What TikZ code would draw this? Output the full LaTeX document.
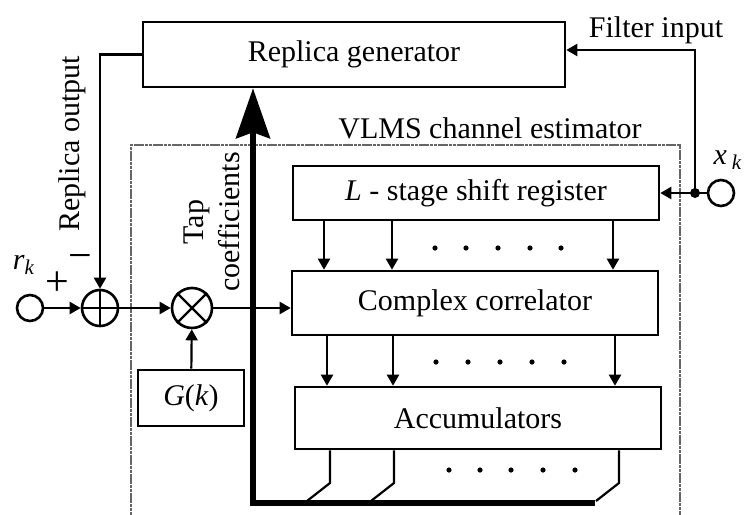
\documentclass[tikz,border=0pt]{standalone}
\usepackage{fontspec}
\setmainfont{Liberation Serif}
\usetikzlibrary{arrows.meta}

\begin{document}
\begin{tikzpicture}[x=0.5pt, y=-0.5pt, line join=miter,
  font=\fontsize{15}{18}\selectfont,
  >={Triangle[length=5.5pt,width=6pt]},
  blk/.style={draw, line width=1.3pt, minimum width=183pt, inner sep=0pt},
  sig/.style={draw, circle, line width=1.3pt, inner sep=0pt},
  wire/.style={line width=1.1pt},
  bus/.style={line width=2.8pt},
  sign/.style={font=\fontsize{21}{21}\selectfont, inner sep=0pt},
  frame/.style={draw=black!60, line width=1.4pt, dash pattern=on 1.6pt off 0.3pt}]

\useasboundingbox (0,0) rectangle (746,515);
\clip (0,0) rectangle (746,515);

% estimator frame
\draw[frame] (131,530) -- (131,145) -- (680,145) -- (680,530);
\node (vlms) at (490,128) {VLMS channel estimator};

\node[blk, minimum width=211pt, minimum height=32.5pt] (rep) at (354,54.5) {Replica generator};
\node[blk, minimum height=27pt] (sreg) at (476,193) {\textit{L} - stage shift register};
\node[blk, minimum height=32pt] (corr) at (475,303) {Complex correlator};
\node[blk, minimum height=31pt] (acc) at (478,418) {Accumulators};
\node[blk, minimum width=53pt, minimum height=28pt] (gk) at (191,398) {\textit{G}(\textit{k})};

\node[sig, minimum size=13pt] (rin) at (30,308) {};
\node[sig, minimum size=18pt] (sum) at (100,308) {};
\node[sig, minimum size=20pt] (mul) at (192,308) {};
\node[sig, minimum size=13pt] (xin) at (721,193) {};
\draw[wire] (sum.north) -- (sum.south) (sum.west) -- (sum.east);
\draw[wire] (mul.north west) -- (mul.south east) (mul.north east) -- (mul.south west);

\node (rk) at (24,265) {\textit{r}\textsubscript{\textit{k}}};
\node (xk) at (728,160) {\textit{x}\,\textsubscript{\textit{k}}};
\node[sign] (plus) at (57,284) {+};
\node[sign] (minus) at (80,262) {\textminus};
\node[rotate=90] (repout) at (72,144) {Replica output};
\node[rotate=90, align=center] (tap) at (212,222) {Tap\\coefficients};
\node (filt) at (656,30) {Filter input};

% signal path
\draw[wire,->] (rin) -- (sum);
\draw[wire,->] (sum) -- (mul);
\draw[wire,->] (mul.east) -- (corr.west |- mul.east);
\draw[wire,->] (gk) -- (mul);
\draw[wire,->] (rep.west) -| (sum.north);

\coordinate (jn) at (695,193);
\coordinate (fin) at (695,50);
\draw[wire,->] (xin) -- (sreg.east);
\fill (jn) circle (2.5pt);
\draw[wire,->] (jn) -- (fin) -- (fin -| rep.east);

\foreach \x in {324,392,613} \draw[wire,->] (\x,0 |- sreg.south) -- (\x,0 |- corr.north);
\foreach \x in {327,393,615} \draw[wire,->] (\x,0 |- corr.south) -- (\x,0 |- acc.north);
\foreach \x in {435,466,498,530,561} \fill (\x,248) circle (1.3pt);
\foreach \x in {436,468,500,532,564} \fill (\x,362) circle (1.3pt);
\foreach \x in {449,480,511,543,575} \fill (\x,470) circle (1.3pt);

% tap coefficient bus
\coordinate (busl) at (253,503);
\coordinate (busr) at (595,503);
\foreach \x in {330,394,619} \draw[wire] (\x,0 |- acc.south) -- (\x,483) -- ({\x-23},501);
\draw[bus, -{Stealth[length=25pt,width=17pt,inset=3pt]}] (busr) -- (busl) -- (busl |- rep.south);
\end{tikzpicture}
\end{document}
